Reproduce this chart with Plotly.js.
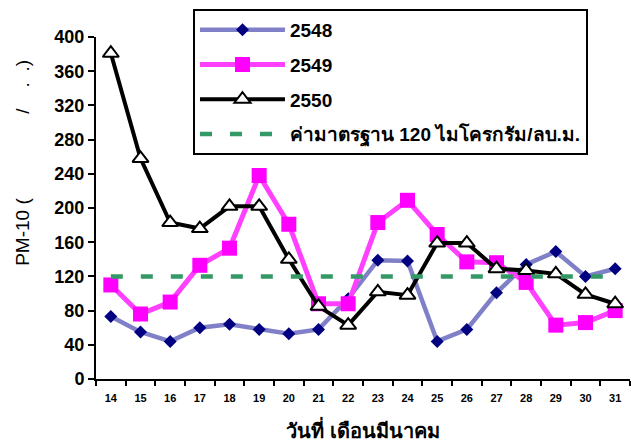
<!DOCTYPE html>
<html>
<head>
<meta charset="utf-8">
<script src="https://cdn.plot.ly/plotly-3.0.1.min.js"></script>
<style>html,body{margin:0;padding:0;background:#fff;}#chart{width:631px;height:445px;}</style>
</head>
<body>
<div id="chart"></div>
<script>
const days = ["14","15","16","17","18","19","20","21","22","23","24","25","26","27","28","29","30","31"];
const y2548 = [73, 55, 44, 60, 64, 58, 53, 58, 94, 139, 138, 44, 58, 101, 134, 149, 120, 129];
const y2549 = [110, 76, 90, 133, 153, 238, 181, 88, 88, 183, 209, 169, 137, 136, 113, 63, 66, 80];
const y2550 = [381, 258, 183, 176, 202, 202, 140, 85, 63, 102, 98, 159, 159, 129, 127, 123, 99, 88];
const standard = [120, 120, 120, 120, 120, 120, 120, 120, 120, 120, 120, 120, 120, 120, 120, 120, 120, 120];
const seriesNames = ["2548", "2549", "2550", "ค่ามาตรฐาน 120 ไมโครกรัม/ลบ.ม."];
const yTicks = [0, 40, 80, 120, 160, 200, 240, 280, 320, 360, 400];

const F = "'Liberation Sans', Arial, sans-serif";
const nb = "\u00A0";
const yTitle = "PM-10 (" + nb.repeat(16) + "/" + nb.repeat(4) + "." + nb.repeat(2) + ".)";

const traces = [
  {x: days, y: y2548, name: seriesNames[0], type: "scatter", mode: "lines+markers", legendgroup: "a",
   line: {color: "#8080C8", width: 4.5}, marker: {symbol: "diamond", size: 10, color: "#000080"}},
  {x: days, y: y2549, name: seriesNames[1], type: "scatter", mode: "lines+markers", legendgroup: "b",
   line: {color: "#FF40FF", width: 5}, marker: {symbol: "square", size: 15, color: "#FF00FF"}},
  {x: days, y: y2550, name: seriesNames[2], type: "scatter", mode: "lines+markers", legendgroup: "c",
   line: {color: "#000000", width: 4}, marker: {symbol: "triangle-up", size: 14, color: "#FFFFFF", line: {color: "#000000", width: 2}}},
  {x: days, y: standard, name: seriesNames[3], type: "scatter", mode: "lines", legendgroup: "d",
   line: {color: "#339966", width: 4.5, dash: "12px,18px"}}
];

const layout = {
  width: 631, height: 445,
  margin: {l: 96, r: 1, t: 37, b: 66},
  paper_bgcolor: "#FFFFFF", plot_bgcolor: "#FFFFFF",
  font: {family: F, color: "#000"},
  showlegend: true,
  legend: {
    x: 0.1816, y: 1.082, xanchor: "left", yanchor: "top",
    bgcolor: "#FFFFFF", bordercolor: "#000000", borderwidth: 2,
    font: {family: F, size: 19, weight: "bold", color: "#000"},
    traceorder: "grouped", tracegroupgap: 7, itemwidth: 85
  },
  xaxis: {
    type: "category", range: [-0.5, 17.5], tickson: "boundaries",
    showline: true, linecolor: "#000", linewidth: 2, mirror: false,
    ticks: "outside", ticklen: 5, tickwidth: 2, tickcolor: "#000",
    showgrid: false, zeroline: false,
    tickfont: {family: F, size: 11, weight: "bold", color: "#000"},
    ticklabelstandoff: 8,
    title: {text: "วันที่ เดือนมีนาคม", font: {family: F, size: 20, weight: "bold", color: "#000"}, standoff: 21}
  },
  yaxis: {
    range: [0, 400], tickvals: yTicks, ticktext: yTicks.map(String),
    showline: true, linecolor: "#000", linewidth: 2,
    ticks: "outside", ticklen: 6, tickwidth: 2, tickcolor: "#000",
    showgrid: false, zeroline: false,
    tickfont: {family: F, size: 18, weight: "bold", color: "#000"},
    title: {text: ""}
  },
  annotations: [{
    text: yTitle, xref: "paper", yref: "paper", x: -0.138, y: 0.633,
    xanchor: "center", yanchor: "middle", textangle: -90, showarrow: false,
    font: {family: F, size: 19, color: "#000"}
  }]
};

Plotly.newPlot("chart", traces, layout, {displayModeBar: false, staticPlot: true});
</script>
</body>
</html>
